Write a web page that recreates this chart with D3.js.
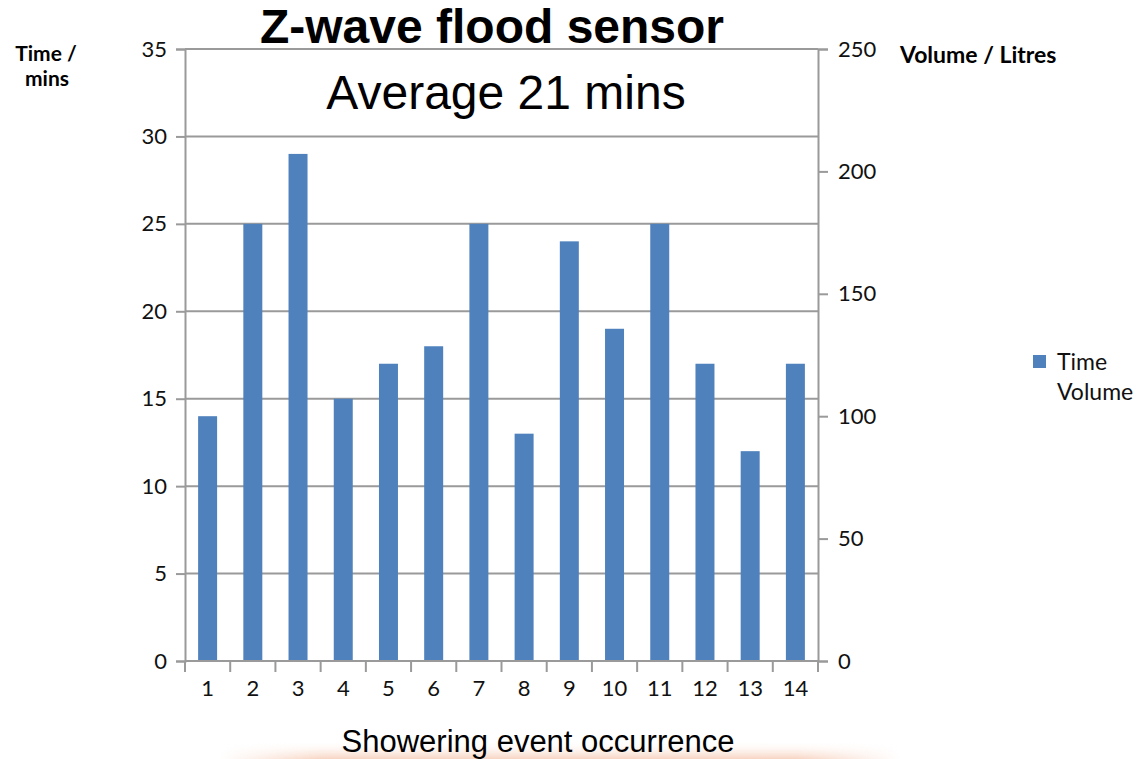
<!DOCTYPE html>
<html><head><meta charset="utf-8">
<script src="https://cdn.jsdelivr.net/npm/d3@7"></script>
<style>body{margin:0;background:#fff;} svg{display:block;}</style>
</head><body>
<svg id="c" width="1137" height="759"></svg>
<script>
const categories = ["1","2","3","4","5","6","7","8","9","10","11","12","13","14"];
const timeValues = [14,25,29,15,17,18,25,13,24,19,25,17,12,17];
const timeTicks = [0,5,10,15,20,25,30,35];
const volumeTicks = [0,50,100,150,200,250];
const seriesNames = ["Time","Volume"];

(function(){
const svg = d3.select("#c");
const pL = 185, pR = 818, pT = 49, pB = 661;
const tickFont = "Lato, 'Open Sans', sans-serif";

const defs = svg.append("defs");
const g1 = defs.append("linearGradient").attr("id","bg").attr("x1",0).attr("x2",0).attr("y1",0).attr("y2",1);
g1.append("stop").attr("offset","0").attr("stop-color","#fff").attr("stop-opacity",0);
g1.append("stop").attr("offset","1").attr("stop-color","#f3b89a").attr("stop-opacity",0.6);
const g2 = defs.append("linearGradient").attr("id","hm");
g2.append("stop").attr("offset","0").attr("stop-color","#fff").attr("stop-opacity",0);
g2.append("stop").attr("offset","0.15").attr("stop-color","#fff").attr("stop-opacity",1);
g2.append("stop").attr("offset","0.85").attr("stop-color","#fff").attr("stop-opacity",1);
g2.append("stop").attr("offset","1").attr("stop-color","#fff").attr("stop-opacity",0);
const mask = defs.append("mask").attr("id","mk");
mask.append("rect").attr("x",220).attr("y",740).attr("width",680).attr("height",19).attr("fill","url(#hm)");
svg.append("rect").attr("x",220).attr("y",740).attr("width",680).attr("height",19).attr("fill","url(#bg)").attr("mask","url(#mk)");

const x = d3.scaleBand().domain(categories).range([pL,pR]).paddingInner(0.58).paddingOuter(0.29);
const xb = d3.scaleBand().domain(categories).range([pL,pR]);
const y = d3.scaleLinear().domain([0,35]).range([pB,pT]);
const yv = d3.scaleLinear().domain([0,250]).range([pB,pT]);

svg.append("g").selectAll("line").data(timeTicks).join("line")
  .attr("x1",pL).attr("x2",pR).attr("y1",d=>y(d)).attr("y2",d=>y(d))
  .attr("stroke","#9a9a9a").attr("stroke-width",2);

svg.append("g").selectAll("rect").data(timeValues).join("rect")
  .attr("x",(d,i)=>x(categories[i])).attr("width",x.bandwidth())
  .attr("y",d=>y(d)).attr("height",d=>pB-y(d)).attr("fill","#4F81BD");

const la = svg.append("g").attr("transform",`translate(${pL},0)`)
  .call(d3.axisLeft(y).tickValues(timeTicks).tickSize(9).tickPadding(9));
const ra = svg.append("g").attr("transform",`translate(${pR},0)`)
  .call(d3.axisRight(yv).tickValues(volumeTicks).tickSize(10).tickPadding(10));
const ba = svg.append("g").attr("transform",`translate(0,${pB})`)
  .call(d3.axisBottom(xb).tickSize(0).tickPadding(19));
svg.append("g").selectAll("line").data(d3.range(categories.length+1)).join("line")
  .attr("x1",i=>pL+i*xb.step()).attr("x2",i=>pL+i*xb.step())
  .attr("y1",pB).attr("y2",pB+11).attr("stroke","#9a9a9a").attr("stroke-width",2);

[la,ra,ba].forEach(a=>{
  a.selectAll("path.domain").attr("stroke","#9a9a9a").attr("stroke-width",2);
  a.selectAll(".tick line").attr("stroke","#9a9a9a").attr("stroke-width",2);
  a.selectAll("text").attr("font-family",tickFont).attr("font-size",22).attr("fill","#111");
});
ba.select("path.domain").attr("d",`M${pL},0H${pR}`);

svg.append("text").attr("x",492).attr("y",43).attr("text-anchor","middle")
  .attr("font-family","'Liberation Sans', Arial, sans-serif").attr("font-weight","bold").attr("font-size",48)
  .text("Z-wave flood sensor");
svg.append("text").attr("x",506).attr("y",109).attr("text-anchor","middle")
  .attr("font-family","'Liberation Sans', Arial, sans-serif").attr("font-size",48)
  .text("Average 21 mins");
svg.append("text").attr("x",538).attr("y",752).attr("text-anchor","middle")
  .attr("font-family","'Liberation Sans', Arial, sans-serif").attr("font-size",31)
  .text("Showering event occurrence");

const lab = svg.append("g").attr("font-family",tickFont).attr("font-weight","bold").attr("font-size",21).attr("fill","#000");
lab.append("text").attr("x",46).attr("y",61).attr("text-anchor","middle").text("Time /");
lab.append("text").attr("x",47).attr("y",86).attr("text-anchor","middle").text("mins");
lab.append("text").attr("x",900).attr("y",63).attr("font-size",23).text("Volume / Litres");

svg.append("rect").attr("x",1033).attr("y",355).attr("width",13).attr("height",13).attr("fill","#4F81BD");
svg.append("g").selectAll("text").data(seriesNames).join("text")
  .attr("x",1057).attr("y",(d,i)=>370+i*30)
  .attr("font-family",tickFont).attr("font-size",23).attr("fill","#111").text(d=>d);
})();
</script>
</body></html>
